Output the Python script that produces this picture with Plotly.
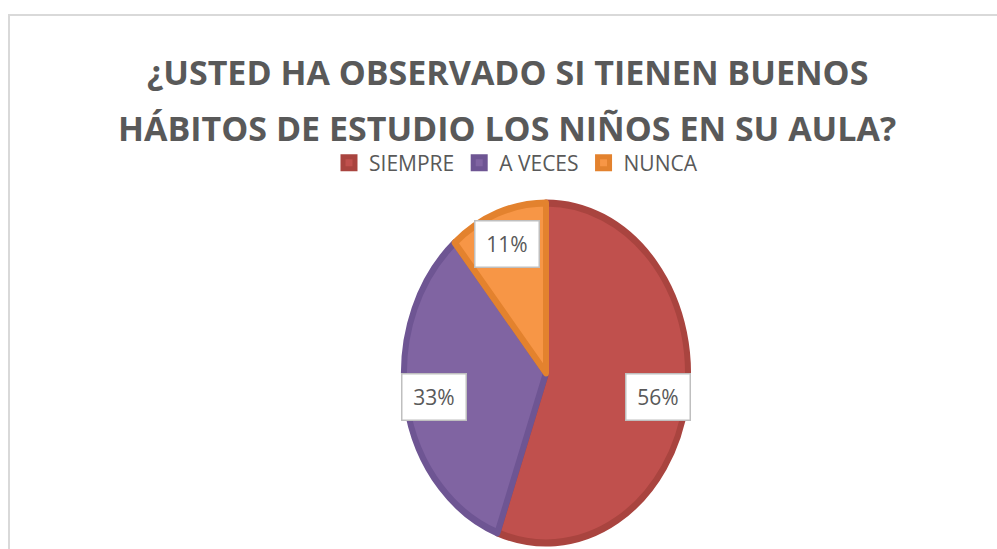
import math
import plotly.graph_objects as go

# ---- data ----
categories = ["SIEMPRE", "A VECES", "NUNCA"]
counts = [5, 3, 1]
fill_colors = ["#C0504D", "#8064A2", "#F79646"]
edge_colors = ["#A9443F", "#6E5593", "#E3822E"]
title_lines = ["¿USTED HA OBSERVADO SI TIENEN BUENOS",
               "HÁBITOS DE ESTUDIO LOS NIÑOS EN SU AULA?"]

# ---- layout geometry (pixels) ----
W, H = 997, 549
CX, CY = 546, 373          # pie centre
RX, RY = 142, 170          # horizontal / vertical radius (ellipse)
K = RY / RX
LABEL_FRAC = 0.78

fig = go.Figure()
fig.add_trace(go.Pie(
    labels=categories,
    values=counts,
    sort=False,
    direction="clockwise",
    rotation=0,
    marker=dict(colors=fill_colors, line=dict(color=edge_colors, width=6)),
    textinfo="none",
    hoverinfo="label+percent",
    domain=dict(x=[(CX - RX) / W, (CX + RX) / W],
                y=[(H - CY - RX) / H, (H - CY + RX) / H]),
))

# data labels (percent boxes) placed at the middle angle of each slice
total = sum(counts)
annotations = []
cum = 0
for cat, v in zip(categories, counts):
    frac = v / total
    mid = (cum + frac / 2) * 2 * math.pi   # clockwise from 12 o'clock
    cum += frac
    px = CX + LABEL_FRAC * (RX + 4) * math.sin(mid)
    py = CY - LABEL_FRAC * (RY + 6) * math.cos(mid)
    annotations.append(dict(
        x=px / W, y=1 - py / H, xref="paper", yref="paper",
        text=f"{round(frac * 100)}%", showarrow=False,
        font=dict(family="Open Sans", size=21, color="#595959"),
        bgcolor="white", bordercolor="#BFBFBF", borderwidth=1.5,
        borderpad=4, width=55, height=37,
        xanchor="center", yanchor="middle",
    ))

# title lines
for txt, ty in zip(title_lines, [72, 128]):
    annotations.append(dict(
        x=507 / W, y=1 - ty / H, xref="paper", yref="paper",
        text=f"<b>{txt}</b>", showarrow=False,
        font=dict(family="Open Sans", size=34, color="#595959"),
        xanchor="center", yanchor="middle",
    ))

fig.update_layout(
    width=W, height=H,
    margin=dict(l=0, r=0, t=0, b=0),
    paper_bgcolor="white",
    plot_bgcolor="white",
    showlegend=True,
    legend=dict(
        orientation="h", x=516 / W, y=1 - 163 / H,
        xanchor="center", yanchor="middle",
        font=dict(family="Open Sans", size=21, color="#595959"),
        itemclick=False, itemdoubleclick=False,
    ),
    annotations=annotations,
    shapes=[dict(type="rect", xref="paper", yref="paper",
                 x0=9 / W, x1=1.02, y0=-0.02, y1=1 - 15 / H,
                 line=dict(color="#D9D9D9", width=2), layer="below")],
)

# remove the page margin and stretch the pie vertically into an ellipse
post = (
    "document.body.style.margin='0';"
    "var gd=document.getElementById('{plot_id}');"
    "function stretch(){var g=gd.querySelector('.pielayer');"
    f"if(g){{g.setAttribute('transform','translate(0,{CY}) scale(1,{K:.4f}) translate(0,{-CY})');}}}}"
    "stretch(); gd.on('plotly_afterplot', stretch);"
)
fig.write_html("out.html", post_script=post, config={"displayModeBar": False})
